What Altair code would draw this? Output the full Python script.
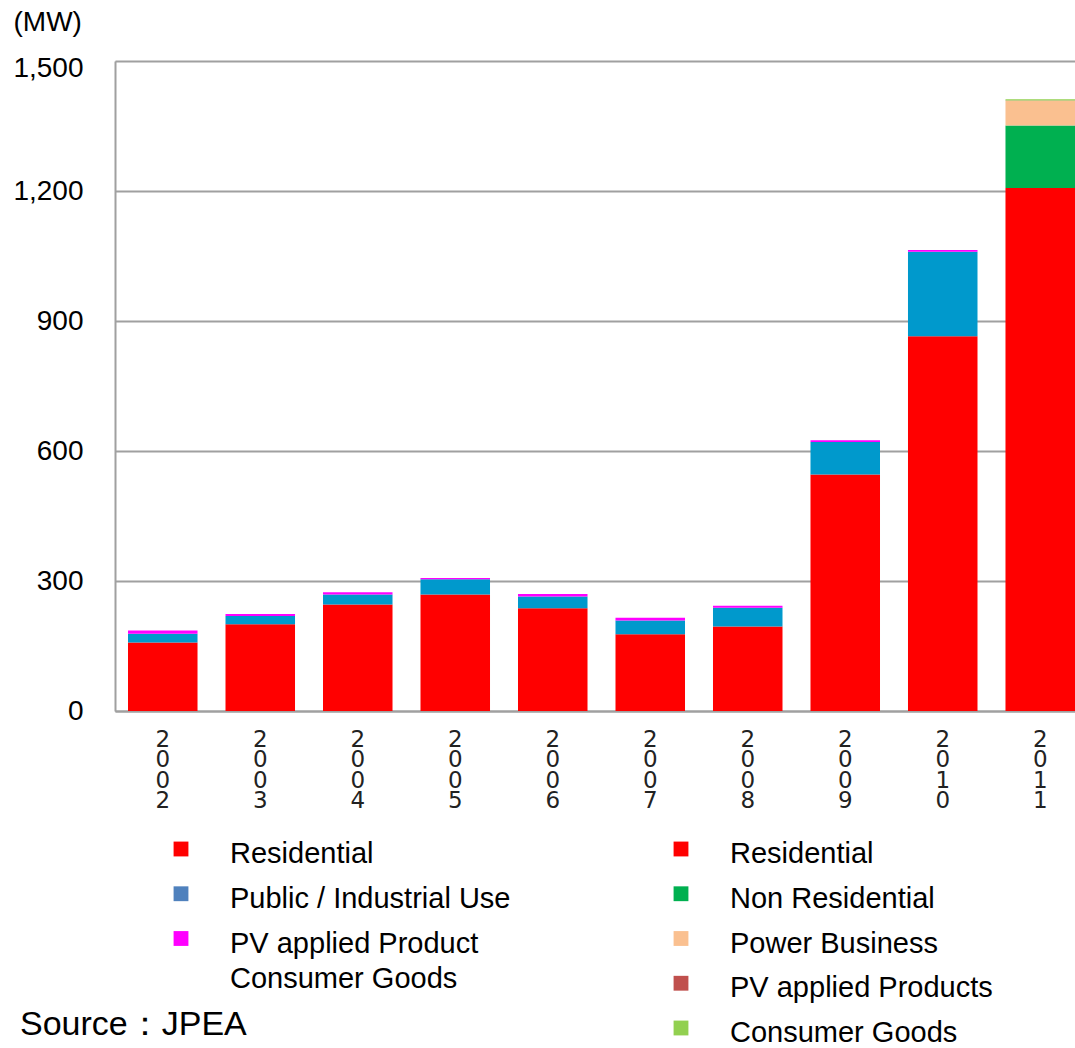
import altair as alt
import pandas as pd

years = ["2002", "2003", "2004", "2005", "2006", "2007", "2008", "2009", "2010", "2011"]

residential = [158, 200, 246, 269, 237, 177, 195, 546, 865, 1207]
public_industrial = [20, 19, 23, 35, 27, 32, 43, 75, 195, 0]
pv_consumer = [8, 5, 5, 3, 6, 6, 5, 4, 4, 0]
non_residential = [0, 0, 0, 0, 0, 0, 0, 0, 0, 144]
power_business = [0, 0, 0, 0, 0, 0, 0, 0, 0, 57]
pv_products = [0, 0, 0, 0, 0, 0, 0, 0, 0, 1]
consumer_goods = [0, 0, 0, 0, 0, 0, 0, 0, 0, 3]

series_names = ["Residential", "Public / Industrial Use", "PV applied Product / Consumer Goods",
                "Non Residential", "Power Business", "PV applied Products", "Consumer Goods"]
series_colors = ["#FF0000", "#0099CC", "#FF00FF", "#00B050", "#FAC090", "#C0504D", "#92D050"]
series_values = [residential, public_industrial, pv_consumer, non_residential,
                 power_business, pv_products, consumer_goods]

y_ticks = [0, 300, 600, 900, 1200, 1500]

legend_labels = ["Residential", "Public / Industrial Use", "PV applied Product\nConsumer Goods",
                 "Residential", "Non Residential", "Power Business", "PV applied Products", "Consumer Goods"]
legend_cols = [0, 0, 0, 1, 1, 1, 1, 1]
legend_rows = [0, 1, 2, 0, 1, 2, 3, 4]
legend_colors = ["#FF0000", "#4F81BD", "#FF00FF", "#FF0000", "#00B050", "#FAC090", "#C0504D", "#92D050"]

source_text = ["Source：JPEA"]

rows = []
for si, (name, vals) in enumerate(zip(series_names, series_values)):
    for y, v in zip(years, vals):
        rows.append({"year": y, "series": name, "value": v, "order": si})
df = pd.DataFrame(rows)

leg_df = pd.DataFrame({"label": legend_labels, "col": legend_cols, "row": legend_rows, "color": legend_colors})

bars = alt.Chart(df).mark_bar().encode(
    x=alt.X("year:N", sort=years,
            scale=alt.Scale(paddingInner=0.287, paddingOuter=0.0667, align=1),
            axis=alt.Axis(title=None, grid=False, ticks=False, domain=True,
                          domainColor="#A0A0A0", domainWidth=2, labelAngle=0,
                          labelExpr="split(datum.label, '')", labelFont="DejaVu Sans",
                          labelFontSize=23, labelLineHeight=20.5, labelBaseline="top",
                          labelPadding=17, labelColor="#222222")),
    y=alt.Y("value:Q", stack="zero",
            scale=alt.Scale(domain=[0, 1500], nice=False),
            axis=alt.Axis(values=y_ticks, format=",.0f", grid=True, gridColor="#A0A0A0",
                          gridWidth=2, ticks=False, domain=True, domainColor="#A0A0A0",
                          domainWidth=2, labelFont="Liberation Sans", labelFontSize=28,
                          labelColor="#000000", labelPadding=32,
                          labelOffset={"condition": {"test": "datum.value == 1500", "value": 7}, "value": 0},
                          title="(MW)", titleAngle=0, titleAlign="left",
                          titleBaseline="alphabetic", titleX=-102, titleY=-31,
                          titleFont="Liberation Sans", titleFontSize=28,
                          titleFontWeight="normal", titleColor="#000000")),
    color=alt.Color("series:N", scale=alt.Scale(domain=series_names, range=series_colors), legend=None),
    order=alt.Order("order:Q"),
)

swatches = alt.Chart(leg_df).mark_square(size=220, opacity=1).encode(
    x=alt.X("col:Q", scale=alt.Scale(domain=[0, 1], range=[66, 566]), axis=None),
    y=alt.Y("row:Q", scale=alt.Scale(domain=[0, 4], range=[788, 967], nice=False, zero=False), axis=None),
    color=alt.Color("color:N", scale=None, legend=None),
)

texts = alt.Chart(leg_df).mark_text(align="left", baseline="alphabetic", fontSize=29,
                                    font="Liberation Sans", lineBreak="\n", lineHeight=35,
                                    color="#000000").encode(
    x=alt.X("col:Q", scale=alt.Scale(domain=[0, 1], range=[115, 615]), axis=None),
    y=alt.Y("row:Q", scale=alt.Scale(domain=[0, 4], range=[802, 981], nice=False, zero=False), axis=None),
    text="label:N",
)

source = alt.Chart(pd.DataFrame({"t": source_text})).mark_text(
    align="left", baseline="alphabetic", fontSize=34, font="Liberation Sans", color="#000000"
).encode(x=alt.value(-95), y=alt.value(974), text="t:N")

chart = alt.layer(bars, swatches, texts, source).resolve_scale(
    x="independent", y="independent", color="independent"
).properties(
    width=960, height=650,
    autosize=alt.AutoSizeParams(type="none"),
    padding={"left": 115, "top": 61, "right": 0, "bottom": 337},
).configure_view(strokeWidth=0).configure(background="white")

chart.save("out.html", embed_options={"renderer": "svg", "actions": False})
